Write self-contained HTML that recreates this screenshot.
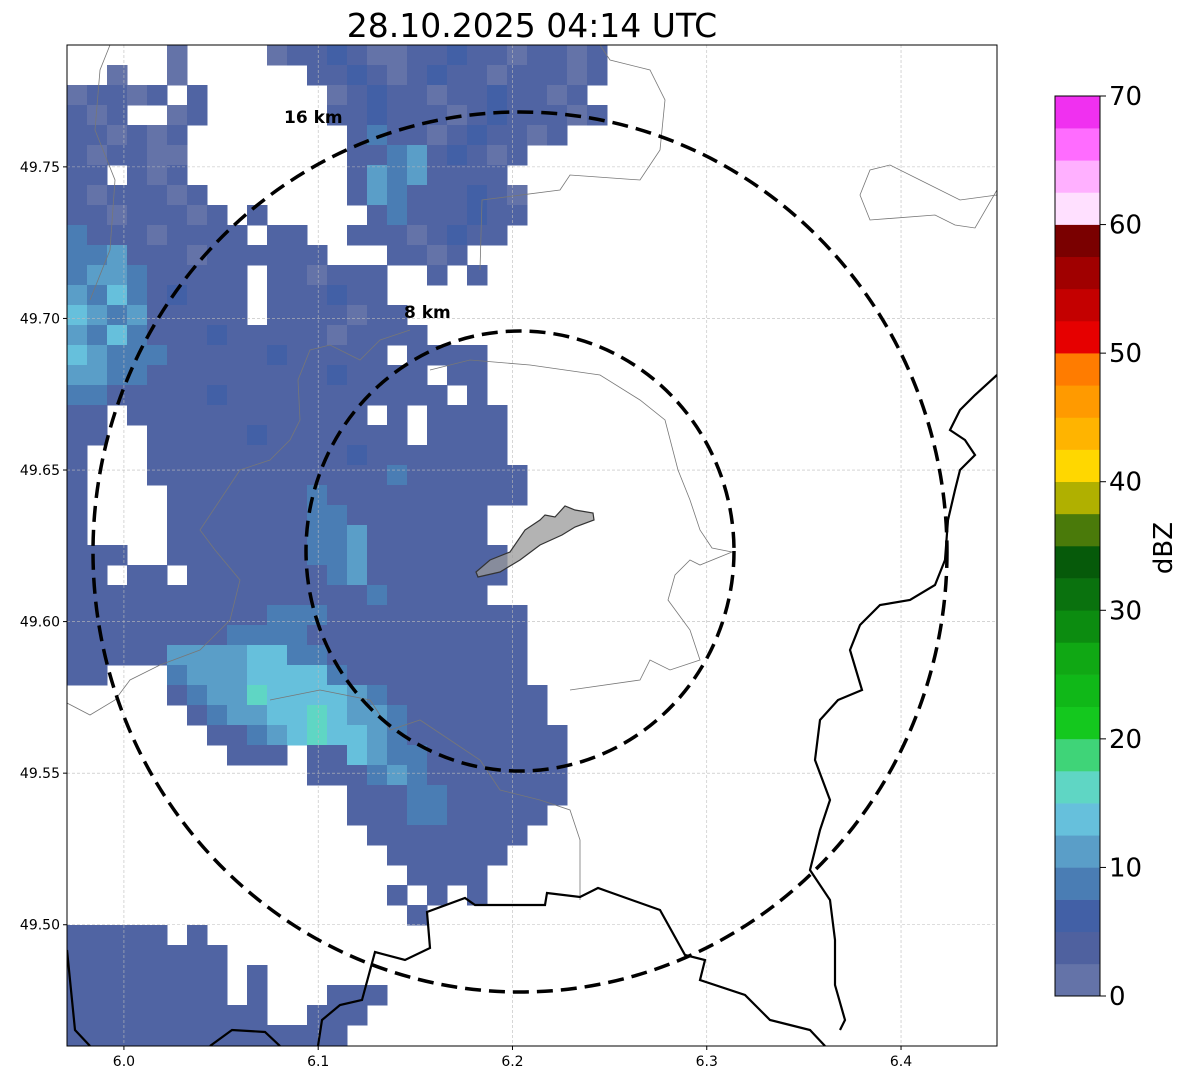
<!DOCTYPE html>
<html><head><meta charset="utf-8"><style>
html,body{margin:0;padding:0;background:#fff;}
svg{display:block;font-family:"DejaVu Sans","Liberation Sans",sans-serif;}
</style></head><body>
<svg id="chart" width="1188" height="1084" viewBox="0 0 1188 1084" xmlns="http://www.w3.org/2000/svg">
<text x="532" y="37" font-size="33" text-anchor="middle" fill="#000">28.10.2025 04:14 UTC</text>
<defs><clipPath id="clip"><rect x="67" y="45" width="930" height="1001"/></clipPath></defs>
<g id="cells" clip-path="url(#clip)"></g>
<g id="grid"></g>
<g clip-path="url(#clip)" fill="none">
<polyline stroke="#777" stroke-width="0.8" points="480,270 482,200 560,190 570,175 640,180 660,150 665,100 650,70 610,60 600,45"/>
<polyline stroke="#777" stroke-width="0.8" points="997,190 975,228 955,225 935,215 870,220 860,195 870,170 890,165 920,180 960,200 997,195"/>
<polyline stroke="#777" stroke-width="0.8" points="430,370 470,360 530,365 600,375 640,400 665,420 678,470 690,500 700,530 712,548 732,552 700,565 690,560 675,575 668,600 690,630 700,660 670,670 650,660 640,680 570,690"/>
<polyline stroke="#777" stroke-width="0.8" points="67,703 90,715 115,700 130,680 160,665 200,650 230,620 240,580 215,550 200,530 220,500 240,470 270,460 290,440 300,420 298,380 310,350 330,345 360,360 380,340 410,330"/>
<polyline stroke="#777" stroke-width="0.8" points="270,700 320,690 370,700 390,730 420,720 450,740 480,760 500,790 540,800 570,810 580,840 580,900"/>
<polyline stroke="#777" stroke-width="0.8" points="110,45 100,70 95,130 115,180 110,250 90,300"/>
<polyline stroke="#000" stroke-width="2.2" points="997,375 975,395 960,410 950,430 965,440 975,455 960,470 955,490 948,520 945,560 935,585 910,600 880,605 860,625 850,650 862,690 838,700 820,720 815,760 830,800 820,830 810,870 830,900 835,940 835,985 845,1020 840,1030"/>
<polyline stroke="#000" stroke-width="2.2" points="318,1046 322,1020 340,1005 362,1000 375,952 405,960 430,948 427,912 465,898 475,905 545,905 547,893 580,897 598,888 660,910 685,955 705,960 700,980 745,995 770,1020 790,1025 810,1030 825,1046"/>
<polyline stroke="#000" stroke-width="2.2" points="67,950 75,1030 90,1046"/>
<polyline stroke="#000" stroke-width="2.2" points="210,1046 232,1030 265,1032 280,1046"/>
</g>
<polygon fill="#9a9a9a" fill-opacity="0.75" stroke="#333" stroke-width="1.2" points="476,572 490,560 510,552 525,530 540,520 545,515 555,517 565,506 575,510 593,513 594,520 575,527 562,535 540,545 520,560 500,572 478,577"/>
<ellipse cx="520" cy="552" rx="427" ry="440" fill="none" stroke="#000" stroke-width="3.5" stroke-dasharray="16,8"/>
<ellipse cx="520" cy="551" rx="214" ry="220" fill="none" stroke="#000" stroke-width="3.5" stroke-dasharray="16,8"/>
<text x="284" y="123" font-size="17" font-weight="bold">16 km</text>
<text x="404" y="318" font-size="17" font-weight="bold">8 km</text>
<rect x="67" y="45" width="930" height="1001" fill="none" stroke="#000" stroke-width="1"/>
<g id="axes"></g>
<g id="cbar"></g>
<text transform="translate(1172,548) rotate(-90)" font-size="26" text-anchor="middle">dBZ</text>
</svg>
<script>
const xTicks=[6.0,6.1,6.2,6.3,6.4];
const yTicks=[49.50,49.55,49.60,49.65,49.70,49.75];
const cbTicks=[0,10,20,30,40,50,60,70];
const cbColors=["#6473a8","#4f619f","#4260a6","#4a7db4","#5a9ec8","#66c0dc","#5fd6c4","#3fd478","#14c81e","#10b818","#10a814","#0c8c10","#0a720e","#065a0a","#4a7a0a","#b0b000","#ffd700","#ffb400","#ff9a00","#ff7c00","#e60000","#c40000","#a00000","#7a0000","#ffe0ff","#ffb0ff","#ff6cff","#f030f0"];
const levelColor={a:"#6473a8",b:"#5064a3",c:"#4260a6",d:"#4a7db4",e:"#5a9ec8",f:"#66c0dc",g:"#5fd6c4"};
const rows=[".....a....abbcbaabbcbbabbab","..a..a......bbcbabcbbabbbab","abbab.b......abcbbabbcbbab","bab..ab......bbcbbbabcbbbab","bbabab........bdbbabcbbab","babbaa........bbdebcbab","bb.bab........bedebbbb","babbbab.......bedbbbcba","bbabbbab.b.....bdbbbcbb","dbbbabbbb.bb..bbbabcbb","ddebbbabbbbbb...bbab","deedbbbbb.bbabbb..b.b","edfdbcbbb.bbbcbb","fedebbbbb.bbbbabb","edfdbbbcbbbbbabbbb","fedddbbbbbcbbbbb.bbbb","eeddbbbbbbbbbcbbbb.bb","ddbbbbbcbbbbbbbbbbb.b","bb.bbbbbbbbbbbb.b.bbbb","bb..bbbbbcbbbbbbb.bbbb","b...bbbbbbbbbbcbbbbbbb","b...bbbbbbbbbbbbdbbbbbb","b....bbbbbbbdbbbbbbbbbb","b....bbbbbbbddbbbbbbb","b....bbbbbbbddebbbbbb","bbb..bbbbbbbddebbbbbbb","bb.bb.bbbbbbbdebbbbbbb","bbbbbbbbbbbbbbbdbbbbb","bbbbbbbbbbdddbbbbbbbbbb","bbbbbbbbddddbbbbbbbbbbb","bbbbbeeeeffddbbbbbbbbbb","bb...deeeffffdbbbbbbbbb",".....bdeegffffedbbbbbbbb","......bdeeffgfeedbbbbbbb",".......bbdefgffedbbbbbbbb","........bbb.bbfeddbbbbbbb","............bbbdedbbbbbbb","..............bbbddbbbbbb","..............bbbddbbbbb","...............bbbbbbbb","................bbbbbb",".................bbbb","................b.b.b",".................b","bbbbb.b","bbbbbbbb","bbbbbbbb.b","bbbbbbbb.b...bbb","bbbbbbbbbb..bbb","bbbbbbbbbbbbbb"];
const NS="http://www.w3.org/2000/svg";
const X0=67,X1=997,Y0=45,Y1=1046;
const lonMin=5.9707,lonMax=6.4494,latMin=49.46,latMax=49.7902;
function xScale(v){return X0+(v-lonMin)/(lonMax-lonMin)*(X1-X0);}
function yScale(v){return Y1-(v-latMin)/(latMax-latMin)*(Y1-Y0);}
function mk(tag,attrs,parent){const e=document.createElementNS(NS,tag);for(const k in attrs)e.setAttribute(k,attrs[k]);parent.appendChild(e);return e;}
const cellW=20,cellH=20;
const cells=document.getElementById('cells');
rows.forEach((row,r)=>{for(let c=0;c<row.length;c++){const ch=row[c];if(ch==='.')continue;
const e=mk('rect',{x:X0+c*cellW,y:Y0+r*cellH,width:cellW+0.5,height:cellH+0.5,fill:levelColor[ch]},cells);

}});
const grid=document.getElementById('grid'),axes=document.getElementById('axes');
xTicks.forEach(t=>{const x=xScale(t);
const g=mk('line',{x1:x,x2:x,y1:Y0,y2:Y1,stroke:'#bbb','stroke-width':0.6,'stroke-dasharray':'3,2'},grid);


const tk=mk('line',{x1:x,x2:x,y1:Y1,y2:Y1+4,stroke:'#000'},axes);


const l=mk('text',{x:x,y:Y1+20,'font-size':14,'text-anchor':'middle'},axes);l.textContent=t.toFixed(1);

});
yTicks.forEach(t=>{const y=yScale(t);
const g=mk('line',{x1:X0,x2:X1,y1:y,y2:y,stroke:'#bbb','stroke-width':0.6,'stroke-dasharray':'3,2'},grid);


const tk=mk('line',{x1:X0-4,x2:X0,y1:y,y2:y,stroke:'#000'},axes);


const l=mk('text',{x:X0-7,y:y+5,'font-size':14,'text-anchor':'end'},axes);l.textContent=t.toFixed(2);

});
const cb=document.getElementById('cbar');const CBX=1055,CBW=45,CBT=96,CBB=996;
function cbScale(v){return CBB-v/70*(CBB-CBT);}
cbColors.forEach((col,i)=>{const v0=i*2.5,v1=Math.min(70,(i+1)*2.5);if(v0>=70)return;
const e=mk('rect',{x:CBX,y:cbScale(v1),width:CBW,height:cbScale(v0)-cbScale(v1)+0.3,fill:col},cb);

});
mk('rect',{x:CBX,y:CBT,width:CBW,height:CBB-CBT,fill:'none',stroke:'#000','stroke-width':1},cb);
cbTicks.forEach(t=>{const y=cbScale(t);
const tk=mk('line',{x1:CBX+CBW,x2:CBX+CBW+6,y1:y,y2:y,stroke:'#000'},cb);


const l=mk('text',{x:CBX+CBW+9,y:y+9,'font-size':26},cb);l.textContent=t;

});
</script>
</body></html>
